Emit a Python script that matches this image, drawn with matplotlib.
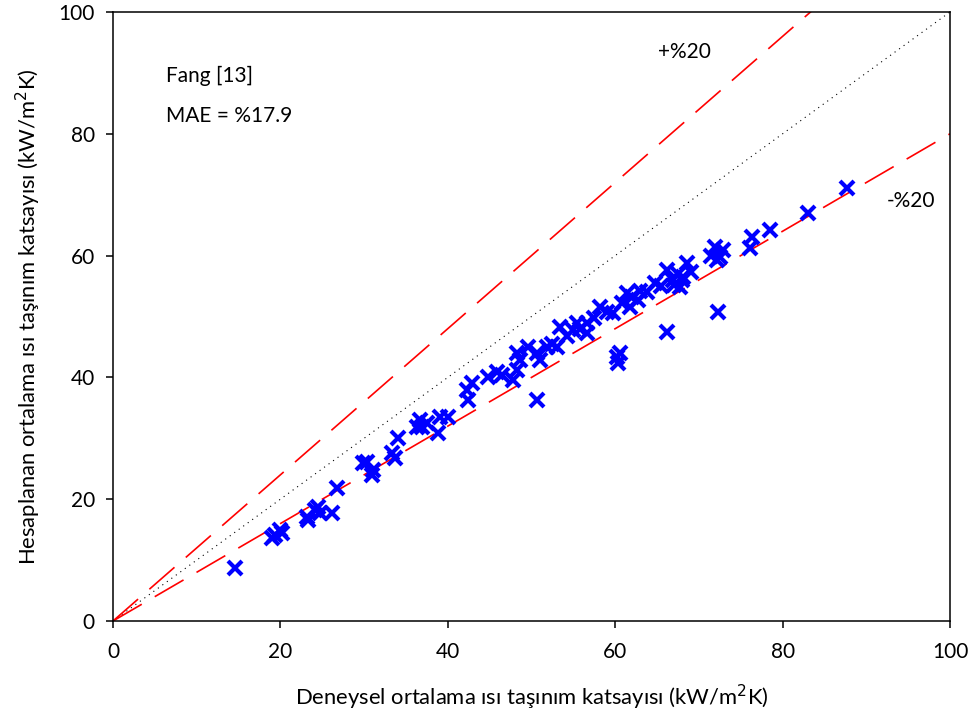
import matplotlib
matplotlib.use("Agg")
import matplotlib.pyplot as plt
import numpy as np

plt.rcParams['font.family'] = ['Lato', 'DejaVu Sans']

# Experimental vs. predicted mean heat transfer coefficients (kW/m2K)
experimental = [
    14.6, 19.0, 20.0, 19.4, 20.2, 23.2, 24.1, 24.7, 26.2, 23.3,
    26.8, 29.9, 30.3, 31.1, 30.9, 33.3, 33.7, 34.1, 36.3, 36.7,
    36.9, 39.1, 40.0, 38.8, 42.4, 42.9, 42.3, 45.9, 46.5, 47.8,
    48.3, 48.6, 48.3, 49.6, 50.7, 50.7, 51.0, 51.9, 53.0, 53.4,
    55.0, 56.6, 55.4, 56.6, 58.2, 59.7, 60.6, 60.3, 61.4, 61.8,
    62.7, 63.8, 64.8, 66.2, 66.2, 66.9, 67.7, 68.6, 68.1, 69.0,
    71.9, 72.2, 72.3, 72.9, 76.3, 76.1, 72.5, 78.5, 83.0, 87.7,
    57.5, 59.0, 60.8, 62.0, 63.0, 65.5, 67.0, 68.0, 55.8, 54.2,
    52.5, 44.8, 37.5, 24.5, 60.2, 67.5, 71.5,
]
predicted = [
    8.7, 13.6, 14.9, 14.1, 14.4, 17.1, 18.2, 17.7, 17.7, 16.6,
    21.8, 25.9, 26.1, 24.8, 24.0, 27.6, 26.8, 30.0, 31.9, 33.0,
    31.9, 33.5, 33.5, 30.9, 36.3, 39.1, 37.9, 40.9, 40.4, 39.6,
    41.2, 42.9, 44.0, 45.0, 44.0, 36.3, 42.9, 45.0, 45.0, 48.3,
    47.8, 47.3, 48.9, 48.9, 51.6, 50.6, 44.0, 42.4, 53.9, 51.6,
    52.7, 54.0, 55.5, 57.6, 47.5, 56.0, 54.8, 58.8, 56.5, 57.3,
    61.4, 59.3, 50.7, 60.9, 63.1, 61.2, 59.8, 64.2, 67.0, 71.1,
    49.8, 50.8, 52.2, 53.2, 54.2, 55.0, 55.2, 56.0, 48.0, 46.8,
    45.5, 40.0, 32.5, 18.8, 43.3, 57.0, 60.0,
]

ticks = [0, 20, 40, 60, 80, 100]

fig = plt.figure(figsize=(9.78, 7.26), dpi=100)
ax = fig.add_axes([0.1155, 0.1446, 0.8559, 0.8389])

ref = np.array([0, 100])
ax.plot(ref, ref, color='black', linestyle=(0, (1, 4)), linewidth=0.8, zorder=1)
ax.plot(ref, 1.2 * ref, color='red', linestyle=(0, (20, 9)), linewidth=1.2, zorder=1)
ax.plot(ref, 0.8 * ref, color='red', linestyle=(0, (20, 9)), linewidth=1.2, zorder=1)

ax.plot(experimental, predicted, linestyle='none', marker='x', color='#0000ff',
        markersize=10.5, markeredgewidth=3, zorder=3)

ax.set_xlim(0, 100)
ax.set_ylim(0, 100)
ax.set_xticks(ticks)
ax.set_yticks(ticks)
ax.tick_params(axis='both', direction='out', length=5, width=1.1, labelsize=15,
               top=False, right=False)
ax.tick_params(axis='x', pad=10)
ax.tick_params(axis='y', pad=8)
for s in ax.spines.values():
    s.set_linewidth(1.1)

ax.set_xlabel('Deneysel ortalama ısı taşınım katsayısı (kW/m$^2$K)', fontsize=15.8, labelpad=15)
ax.set_ylabel('Hesaplanan ortalama ısı taşınım katsayısı (kW/m$^2$K)', fontsize=15.8, labelpad=11)

ax.text(6.3, 89.5, 'Fang [13]', fontsize=15, va='center', ha='left')
ax.text(6.3, 83.0, 'MAE = %17.9', fontsize=15, va='center', ha='left')
ax.text(68.3, 93.5, '+%20', fontsize=15, va='center', ha='center')
ax.text(95.3, 69.0, '-%20', fontsize=15, va='center', ha='center')

fig.savefig('out.png', dpi=100)
